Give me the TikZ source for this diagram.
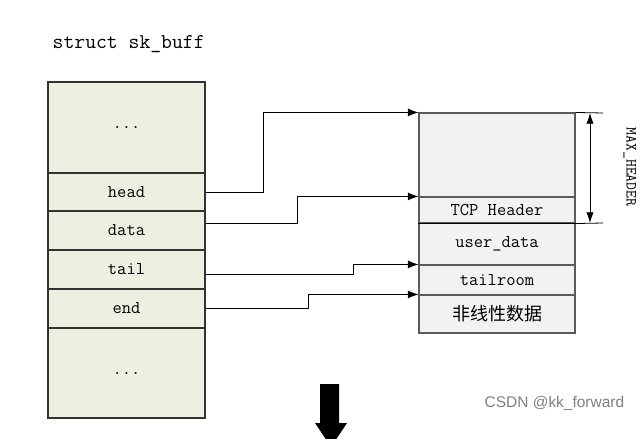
\documentclass[tikz,border=0pt]{standalone}
\usepackage{fontspec}
\setsansfont{Liberation Sans}
\newfontfamily\cjk{Noto Sans CJK SC}
\usetikzlibrary{arrows.meta}
\definecolor{lfill}{RGB}{236,240,224}
\definecolor{rfill}{RGB}{242,242,242}
\definecolor{bord}{RGB}{50,50,50}
\begin{document}
\begin{tikzpicture}[x=0.75pt,y=-0.75pt,
  lcell/.style={draw=bord,fill=lfill,line width=0.8pt,inner sep=0pt,minimum width=117.75pt,font=\ttfamily\fontsize{13.5}{15}\selectfont},
  rcell/.style={draw=bord!80,fill=rfill,line width=0.8pt,inner sep=0pt,minimum width=117pt,font=\ttfamily\fontsize{13.5}{15}\selectfont},
  conn/.style={line width=0.6pt,-{Latex[length=8pt,width=6pt]}},
  dim/.style={line width=0.6pt,{Latex[length=8pt,width=5.5pt]}-{Latex[length=8pt,width=5.5pt]}}]
\useasboundingbox (0,0) rectangle (643,439);
\clip (0,0) rectangle (643,439);
\node[anchor=west,font=\ttfamily\fontsize{15.8}{18}\selectfont] (title) at (48,44) {struct sk\_buff};
% left struct
\node[lcell,minimum height=68.25pt] (ltop) at (126.5,127.5) {...};
\node[lcell,minimum height=28.5pt] (lhead) at (126.5,192) {head};
\node[lcell,minimum height=29.25pt] (ldata) at (126.5,230.5) {data};
\node[lcell,minimum height=29.25pt] (ltail) at (126.5,269.5) {tail};
\node[lcell,minimum height=29.25pt] (lend) at (126.5,308.5) {end};
\node[lcell,minimum height=67.5pt] (lbot) at (126.5,373) {...};
% right buffer
\node[rcell,minimum height=63pt] (rtop) at (497,155) {};
\node[rcell,minimum height=19.5pt] (tcp) at (497,210) {TCP Header};
\node[rcell,minimum height=31.5pt] (user) at (497,244) {user\_data};
\node[rcell,minimum height=22.5pt] (troom) at (497,280) {tailroom};
\node[rcell,minimum height=28.5pt,font=\cjk\fontsize{13.5}{15}\selectfont] (nonlin) at (497,314) {非线性数据};
\draw[line width=0.8pt] (tcp.south west) -- (tcp.south east);
% connectors
\draw[conn] (lhead.east) -- ++(58,0) |- (rtop.north west);
\draw[conn] ([yshift=5.6pt]ldata.east) -- ++(92,0) |- (tcp.north west);
\draw[conn] ([yshift=-3.4pt]ltail.east) -- ++(148,0) |- (troom.north west);
\draw[conn] (lend.east) -- ++(103,0) |- (nonlin.north west);
% MAX_HEADER dimension
\coordinate (et) at (603,113);
\coordinate (eb) at (603,223);
\draw[line width=0.6pt] (rtop.north east) -- (et);
\draw[line width=0.6pt] (tcp.south east) -- (eb);
\coordinate (mt) at (590,113);
\coordinate (mb) at (590,223);
\draw[dim] (mt) -- (mb);
\node[rotate=-90,font=\ttfamily\fontsize{11.5}{13}\selectfont] (mh) at (630,167) {MAX\_HEADER};
% big arrow
\fill (320,384) -- (339,384) -- (339,423) -- (347,423) -- (331,447) -- (315,423) -- (320,423) -- cycle;
% watermark
\node[anchor=west,text=gray,font=\sffamily\fontsize{11.6}{13}\selectfont] (wm) at (480,403) {CSDN @kk\_forward};
\end{tikzpicture}
\end{document}
